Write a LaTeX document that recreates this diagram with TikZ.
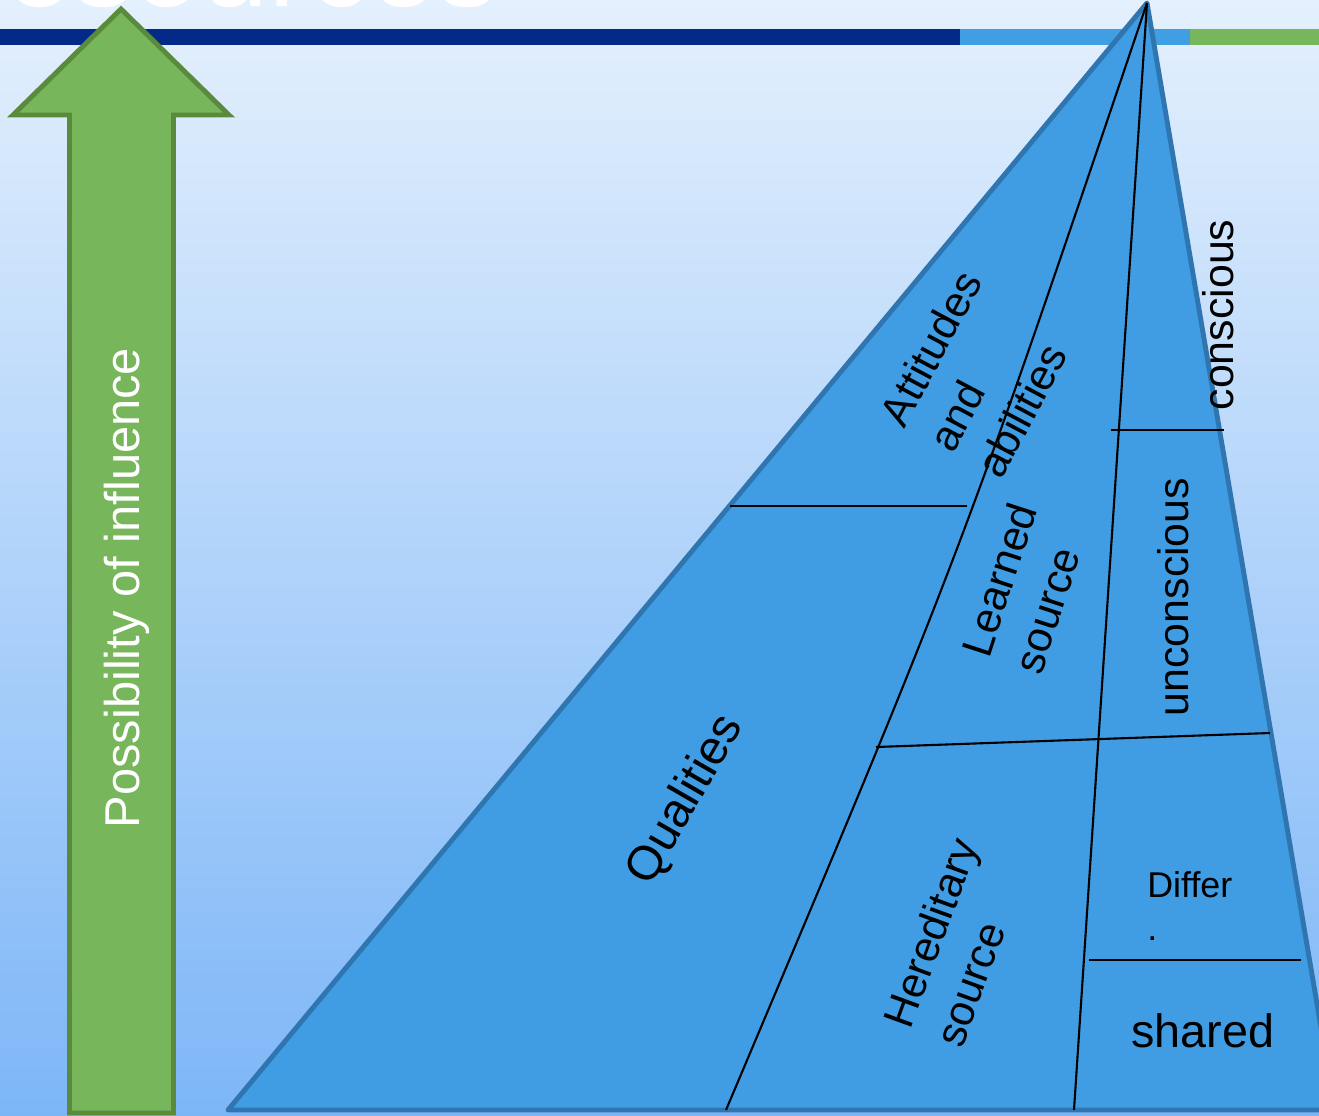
\documentclass[tikz,border=0pt]{standalone}
\usepackage{fontspec}
\setmainfont{Liberation Sans}
\definecolor{bgtop}{HTML}{E4F0FD}
\definecolor{bgmid}{HTML}{B6D5F9}
\definecolor{bgbot}{HTML}{7DB6F7}
\definecolor{bardark}{HTML}{032A88}
\definecolor{barlight}{HTML}{409FE3}
\definecolor{arrowfill}{HTML}{77B65A}
\definecolor{arrowline}{HTML}{5A8A3C}
\definecolor{trifill}{HTML}{409DE3}
\definecolor{triline}{HTML}{2F76B1}
\begin{document}
\begin{tikzpicture}[x=0.02cm, y=-0.02cm]
       \tikzset{label/.style={font=\fontsize{24.4}{31.2}\selectfont, align=left, inner sep=0pt},
                divider/.style={black, line width=1.2pt}}
       \useasboundingbox (0,0) rectangle (1319,1116);
       \clip (0,0) rectangle (1319,1116);
       % background and title bar
       \shade[top color=bgtop, middle color=bgmid, bottom color=bgbot] (0,0) rectangle (1319,1116);
       \node[anchor=base west, inner sep=0pt, text=white, font=\fontsize{69}{70}\selectfont] (title) at (-82,6) {Resources};
       \fill[bardark] (0,29) rectangle (960,45);
       \fill[barlight] (960,29) rectangle (1190,45);
       \fill[arrowfill] (1190,29) rectangle (1319,45);
       % arrow
       \filldraw[fill=arrowfill, draw=arrowline, line width=2.8pt] (121,9) -- (229,115) -- (173.5,115) -- (173.5,1113)
           -- (69.5,1113) -- (69.5,115) -- (13,115) -- cycle;
       \node[text=white, rotate=90, inner sep=0pt, font=\fontsize{27.8}{30}\selectfont] (influence) at (127,588) {Possibility of influence};
       % pyramid
       \coordinate (apex) at (1147,3);
       \coordinate (bl) at (228,1110);
       \coordinate (br) at (1335,1110);
       \filldraw[fill=trifill, draw=triline, line width=2.8pt, line join=round] (apex) -- (bl) -- (br) -- cycle;
       \coordinate (qb) at (726,1110);
       \coordinate (cb) at (1074,1110);
       \coordinate (l1) at (730,506);
       \coordinate (r1) at (967,506);
       \coordinate (l2) at (876,747);
       \coordinate (r2) at (1270,733);
       \coordinate (l3) at (1111,430);
       \coordinate (r3) at (1224,430);
       \coordinate (l4) at (1089,960);
       \coordinate (r4) at (1301,960);
       \draw[divider] (apex) .. controls (960,556) .. (qb);
       \draw[divider] (apex) -- (cb);
       \draw[divider] (l1) -- (r1);
       \draw[divider] (l2) -- (r2);
       \draw[divider] (l3) -- (r3);
       \draw[divider] (l4) -- (r4);
       % labels
       \node[label, rotate=60, font=\fontsize{27.3}{31.2}\selectfont] (qualities) at (686,800) {Qualities};
       \node[label, rotate=62] (attitudes) at (979,374) {Attitudes\\and\\abilities};
       \node[label, rotate=72] (learned) at (1025,588) {Learned\\source};
       \node[label, rotate=70] (hereditary) at (956,942) {Hereditary\\source};
       \node[label, rotate=90] (conscious) at (1218,315) {conscious};
       \node[label, rotate=90] (unconscious) at (1173,597) {unconscious};
       \node[font=\fontsize{20.4}{24.4}\selectfont, align=left, anchor=north west, inner sep=0pt] (differ) at (1147,871) {Differ\\.};
       \node[font=\fontsize{26.6}{30}\selectfont, anchor=base west, inner sep=0pt] (shared) at (1131,1047) {shared};
   \end{tikzpicture}
\end{document}
